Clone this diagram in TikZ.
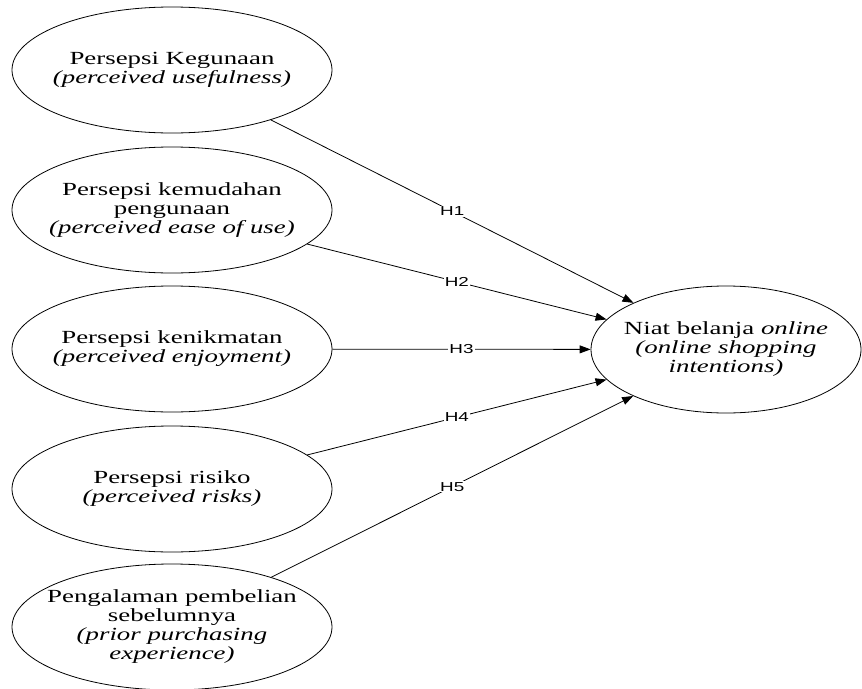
\documentclass[tikz,border=0pt]{standalone}
\usepackage{fontspec}
\setmainfont[FakeStretch=1.45]{Liberation Serif}
\setsansfont[FakeStretch=1.45]{Liberation Sans}
\usepackage{tikz}
\usetikzlibrary{shapes.geometric,arrows.meta}

\begin{document}
\begin{tikzpicture}[x=1pt,y=-1pt,
  var/.style={draw,ellipse,line width=0.8pt,inner sep=0pt,
    minimum width=320pt,minimum height=126pt},
  txt/.style={align=center,inner sep=0pt,font=\fontsize{18.5pt}{19pt}\selectfont},
  arr/.style={line width=0.8pt,-{Triangle[length=11pt,width=8pt]}},
  hlab/.style={fill=white,inner sep=1pt,font=\sffamily\fontsize{13pt}{13pt}\selectfont}]
\useasboundingbox (0,0) rectangle (862,688);
% ellipses
\node[var] (pu) at (172,70) {};
\node[var] (peou) at (172,210) {};
\node[var] (pe) at (172,349) {};
\node[var] (pr) at (172,489) {};
\node[var] (ppe) at (172,627) {};
\node[var,minimum width=270pt,minimum height=127pt] (niat) at (726,349.5) {};
% texts
\node[txt] (pu-t) at (pu) {Persepsi Kegunaan\\\textit{(perceived usefulness)}};
\node[txt] (peou-t) at (peou) {Persepsi kemudahan\\pengunaan\\\textit{(perceived ease of use)}};
\node[txt] (pe-t) at (pe) {Persepsi kenikmatan\\\textit{(perceived enjoyment)}};
\node[txt] (pr-t) at (pr) {Persepsi risiko\\\textit{(perceived risks)}};
\node[txt] (ppe-t) at (ppe) {Pengalaman pembelian\\sebelumnya\\\textit{(prior purchasing}\\\textit{experience)}};
\node[txt] (niat-t) at (niat) {Niat belanja \textit{online}\\\textit{(online shopping}\\\textit{intentions)}};
% hypotheses
\draw[arr] (pu) -- node[hlab] {H1} (niat);
\draw[arr] (peou) -- node[hlab] {H2} (niat);
\draw[arr] (pe) -- node[hlab] {H3} (niat);
\draw[arr] (pr) -- node[hlab] {H4} (niat);
\draw[arr] (ppe) -- node[hlab] {H5} (niat);
\end{tikzpicture}
\end{document}
